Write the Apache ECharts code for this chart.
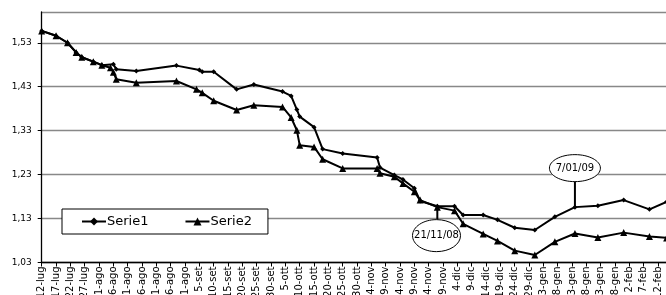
<!DOCTYPE html>
<html>
<head>
    <meta charset="utf-8">
    <title>Serie1 / Serie2</title>
    <script src="https://cdn.jsdelivr.net/npm/echarts@6/dist/echarts.min.js"></script>
    <style>
        html, body { margin: 0; padding: 0; background: #ffffff; }
        #chart { width: 666px; height: 295px; }
    </style>
</head>
<body>
<div id="chart"></div>
<script>
    // dati
    var monthNames = ['gen', 'feb', 'mar', 'apr', 'mag', 'giu', 'lug', 'ago', 'set', 'ott', 'nov', 'dic'];
    var startDate = '2008-07-12';
    var yTicks = [1.03, 1.13, 1.23, 1.33, 1.43, 1.53];

    var dates1 = ['2008-07-12', '2008-07-17', '2008-07-21', '2008-07-24', '2008-07-26', '2008-07-30', '2008-08-02',
        '2008-08-06', '2008-08-07', '2008-08-14', '2008-08-28', '2008-09-05', '2008-09-06', '2008-09-10',
        '2008-09-18', '2008-09-24', '2008-10-04', '2008-10-07', '2008-10-09', '2008-10-10', '2008-10-15',
        '2008-10-18', '2008-10-25', '2008-11-06', '2008-11-07', '2008-11-12', '2008-11-15', '2008-11-19',
        '2008-11-21', '2008-11-27', '2008-12-03', '2008-12-06', '2008-12-13', '2008-12-18', '2008-12-24',
        '2008-12-31', '2009-01-07', '2009-01-14', '2009-01-22', '2009-01-31', '2009-02-09', '2009-02-15'];
    var serie1 = [1.557, 1.546, 1.530, 1.508, 1.497, 1.487, 1.479,
        1.481, 1.470, 1.466, 1.478, 1.468, 1.464, 1.464,
        1.424, 1.435, 1.419, 1.409, 1.378, 1.362, 1.338,
        1.288, 1.278, 1.269, 1.246, 1.229, 1.219, 1.199,
        1.170, 1.158, 1.158, 1.138, 1.138, 1.127, 1.109,
        1.104, 1.134, 1.156, 1.159, 1.172, 1.151, 1.168];

    var dates2 = ['2008-07-12', '2008-07-17', '2008-07-21', '2008-07-24', '2008-07-26', '2008-07-30', '2008-08-02',
        '2008-08-05', '2008-08-06', '2008-08-07', '2008-08-14', '2008-08-28', '2008-09-04', '2008-09-06',
        '2008-09-10', '2008-09-18', '2008-09-24', '2008-10-04', '2008-10-07', '2008-10-09', '2008-10-10',
        '2008-10-15', '2008-10-18', '2008-10-25', '2008-11-06', '2008-11-07', '2008-11-12', '2008-11-15',
        '2008-11-19', '2008-11-21', '2008-11-27', '2008-12-03', '2008-12-06', '2008-12-13', '2008-12-18',
        '2008-12-24', '2008-12-31', '2009-01-07', '2009-01-14', '2009-01-22', '2009-01-31', '2009-02-09',
        '2009-02-15'];
    var serie2 = [1.557, 1.546, 1.530, 1.508, 1.497, 1.487, 1.479,
        1.473, 1.463, 1.447, 1.439, 1.443, 1.424, 1.416,
        1.398, 1.377, 1.388, 1.384, 1.360, 1.331, 1.297,
        1.293, 1.265, 1.244, 1.244, 1.233, 1.225, 1.210,
        1.191, 1.172, 1.156, 1.148, 1.118, 1.095, 1.079,
        1.057, 1.047, 1.077, 1.096, 1.087, 1.098, 1.089,
        1.086];

    // etichette dei fumetti: testo, serie e data del punto indicato
    var calloutTexts = ['21/11/08', '7/01/09'];
    var calloutSeries = [1, 0];
    var calloutDates = ['2008-11-27', '2009-01-14'];

    var DAY = 86400000;
    var base = Date.parse(startDate + 'T00:00:00Z');
    function dayOf(s) {
        return Math.round((Date.parse(s + 'T00:00:00Z') - base) / DAY);
    }
    function pairs(dates, vals) {
        return dates.map(function (d, i) { return [dayOf(d), vals[i]]; });
    }
    var font = 'DejaVu Sans, Verdana, sans-serif';

    var chart = echarts.init(document.getElementById('chart'));
    chart.setOption({
        animation: false,
        backgroundColor: '#ffffff',
        grid: {left: 41.7, top: 12, width: 630.7, height: 250.5, outerBoundsMode: 'none', containLabel: false},
        legend: {
            left: 62, top: 209,
            padding: [6, 16, 6, 19],
            itemGap: 36,
            itemWidth: 24, itemHeight: 10,
            backgroundColor: '#ffffff',
            borderColor: '#000000', borderWidth: 1,
            textStyle: {fontFamily: font, fontSize: 13, color: '#000000', padding: [0, 0, 0, -4]},
            data: ['Serie1', 'Serie2']
        },
        xAxis: {
            type: 'value',
            min: 0, max: 220, interval: 5,
            axisLine: {onZero: false, lineStyle: {color: '#000000', width: 1.3}},
            axisTick: {length: 4, lineStyle: {color: '#000000'}},
            splitLine: {show: false},
            axisLabel: {
                rotate: 90, margin: 4,
                fontFamily: font, fontSize: 10, color: '#000000',
                formatter: function (v) {
                    var d = new Date(base + v * DAY);
                    return d.getUTCDate() + '-' + monthNames[d.getUTCMonth()];
                }
            }
        },
        yAxis: {
            type: 'value',
            min: yTicks[0], max: 1.60, interval: 0.1,
            axisLine: {show: true, lineStyle: {color: '#000000', width: 1.3}},
            axisTick: {show: true, length: 4, lineStyle: {color: '#000000'}},
            splitLine: {lineStyle: {color: '#888888', width: 1.3}},
            axisLabel: {
                margin: 10, showMaxLabel: false,
                fontFamily: font, fontSize: 9, color: '#000000',
                formatter: function (v) { return v.toFixed(2).replace('.', ','); }
            }
        },
        series: [
            {
                name: 'Serie1', type: 'line',
                data: pairs(dates1, serie1),
                symbol: 'diamond', symbolSize: 5,
                lineStyle: {color: '#000000', width: 2},
                itemStyle: {color: '#000000'}
            },
            {
                name: 'Serie2', type: 'line',
                data: pairs(dates2, serie2),
                symbol: 'triangle', symbolSize: 7,
                lineStyle: {color: '#000000', width: 2},
                itemStyle: {color: '#000000'}
            }
        ]
    });

    // fumetti con ellisse collegati al punto
    var graphics = [];
    calloutTexts.forEach(function (txt, i) {
        var s = calloutSeries[i];
        var dates = s === 0 ? dates1 : dates2;
        var vals = s === 0 ? serie1 : serie2;
        var idx = dates.indexOf(calloutDates[i]);
        var p = chart.convertToPixel({gridIndex: 0}, [dayOf(calloutDates[i]), vals[idx]]);
        var below = i === 0;
        var rx = below ? 24 : 25.5, ry = below ? 16 : 13.5;
        var cx = p[0] + (below ? -0.8 : 0);
        var cy = below ? p[1] + 28.5 : p[1] - 39;
        graphics.push({
            type: 'line', z: 100,
            shape: {x1: p[0], y1: p[1], x2: p[0], y2: below ? cy - ry : cy + ry},
            style: {stroke: '#000000', lineWidth: 2}
        });
        graphics.push({
            type: 'ellipse', z: 101,
            shape: {cx: cx, cy: cy, rx: rx, ry: ry},
            style: {fill: '#ffffff', stroke: '#000000', lineWidth: 1}
        });
        graphics.push({
            type: 'text', z: 102,
            x: cx, y: cy,
            style: {
                text: txt, fill: '#000000', font: '10px ' + font,
                align: 'center', verticalAlign: 'middle'
            }
        });
    });
    chart.setOption({graphic: graphics});
</script>
</body>
</html>
